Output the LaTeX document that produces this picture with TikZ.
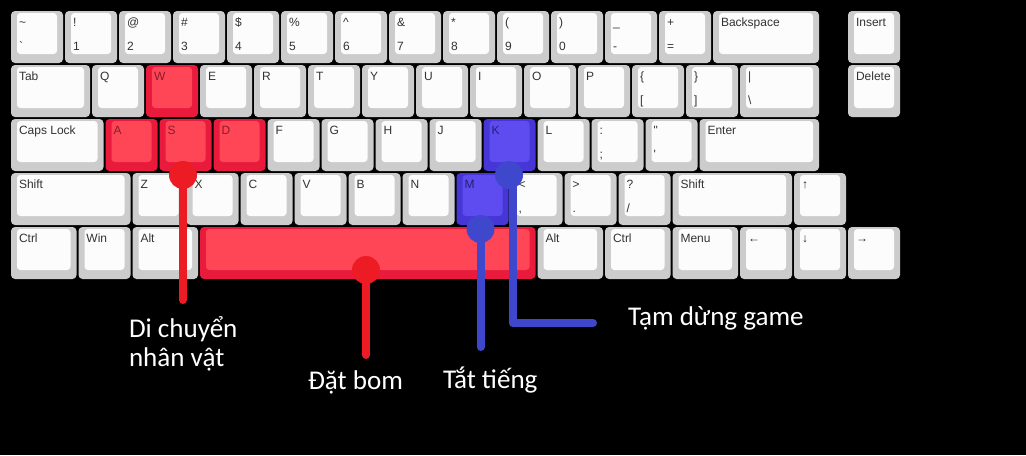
\documentclass[tikz,border=0pt]{standalone}
\usepackage{fontspec}
\newfontfamily\keyfont{Liberation Sans}
\newfontfamily\labfont{Carlito}
\definecolor{outW}{HTML}{CCCCCC}
\definecolor{inW}{HTML}{FCFCFC}
\definecolor{txtW}{HTML}{333333}
\definecolor{outR}{HTML}{E91A3C}
\definecolor{inR}{HTML}{FF4656}
\definecolor{txtR}{HTML}{8A1C2A}
\definecolor{outB}{HTML}{4636D6}
\definecolor{inB}{HTML}{5F4CF0}
\definecolor{txtB}{HTML}{26206A}
\definecolor{lineR}{HTML}{ED1C24}
\definecolor{lineB}{HTML}{3F48CC}
\pgfdeclarelayer{front}
\pgfsetlayers{main,front}
\tikzset{
  keyouter/.style={rectangle, rounded corners=3pt, inner sep=0pt, outer sep=0pt, minimum height=52*0.75pt, anchor=north west},
  legend/.style={inner sep=0pt, outer sep=0pt, anchor=base west, font=\keyfont\fontsize{9pt}{10pt}\selectfont},
  dotR/.style={circle, fill=lineR, minimum size=28*0.75pt, inner sep=0pt},
  dotB/.style={circle, fill=lineB, minimum size=28*0.75pt, inner sep=0pt},
  connR/.style={draw=lineR, line width=6pt, line cap=round},
  connB/.style={draw=lineB, line width=6pt, line cap=round, line join=round},
  label/.style={text=white, inner sep=0pt, outer sep=0pt, anchor=base west, align=left, font=\labfont\fontsize{20.3pt}{21.75pt}\selectfont}
}
% #1 col, #2 row, #3 width (u), #4 name, #5 top, #6 bottom, #7 scheme
\newcommand{\kbkey}[7]{%
  \pgfmathsetmacro{\kx}{11+#1*54}%
  \pgfmathsetmacro{\ky}{11+#2*54}%
  \pgfmathsetmacro{\kw}{#3*54-2}%
  \node[keyouter, fill=out#7, minimum width=\kw*0.75pt] (#4) at (\kx,\ky) {};
  \fill[in#7, rounded corners=2.5pt] (\kx+6,\ky+2) rectangle (\kx+\kw-6,\ky+43);
  \node[legend, text=txt#7] (#4-t) at (\kx+8,\ky+15) {#5};
  \node[legend, text=txt#7] (#4-b) at (\kx+8,\ky+39) {#6};
}
\begin{document}
\begin{tikzpicture}[x=0.75pt,y=-0.75pt]
\fill[black] (0,0) rectangle (1026,455);
\useasboundingbox (0,0) rectangle (1026,455);
% Row 0
\kbkey{0}{0}{1}{k00}{\textasciitilde}{\textasciigrave}{W}
\kbkey{1}{0}{1}{k01}{!}{1}{W}
\kbkey{2}{0}{1}{k02}{@}{2}{W}
\kbkey{3}{0}{1}{k03}{\#}{3}{W}
\kbkey{4}{0}{1}{k04}{\$}{4}{W}
\kbkey{5}{0}{1}{k05}{\%}{5}{W}
\kbkey{6}{0}{1}{k06}{\textasciicircum}{6}{W}
\kbkey{7}{0}{1}{k07}{\&}{7}{W}
\kbkey{8}{0}{1}{k08}{*}{8}{W}
\kbkey{9}{0}{1}{k09}{(}{9}{W}
\kbkey{10}{0}{1}{k010}{)}{0}{W}
\kbkey{11}{0}{1}{k011}{\_}{-}{W}
\kbkey{12}{0}{1}{k012}{+}{=}{W}
\kbkey{13}{0}{2}{kbksp}{Backspace}{}{W}
\kbkey{15.5}{0}{1}{kins}{Insert}{}{W}
% Row 1
\kbkey{0}{1}{1.5}{ktab}{Tab}{}{W}
\kbkey{1.5}{1}{1}{kq}{Q}{}{W}
\kbkey{2.5}{1}{1}{kw}{W}{}{R}
\kbkey{3.5}{1}{1}{ke}{E}{}{W}
\kbkey{4.5}{1}{1}{kr}{R}{}{W}
\kbkey{5.5}{1}{1}{kt}{T}{}{W}
\kbkey{6.5}{1}{1}{ky}{Y}{}{W}
\kbkey{7.5}{1}{1}{ku}{U}{}{W}
\kbkey{8.5}{1}{1}{ki}{I}{}{W}
\kbkey{9.5}{1}{1}{ko}{O}{}{W}
\kbkey{10.5}{1}{1}{kp}{P}{}{W}
\kbkey{11.5}{1}{1}{klb}{\{}{[}{W}
\kbkey{12.5}{1}{1}{krb}{\}}{]}{W}
\kbkey{13.5}{1}{1.5}{kbs}{|}{\textbackslash}{W}
\kbkey{15.5}{1}{1}{kdel}{Delete}{}{W}
% Row 2
\kbkey{0}{2}{1.75}{kcaps}{Caps Lock}{}{W}
\kbkey{1.75}{2}{1}{ka}{A}{}{R}
\kbkey{2.75}{2}{1}{ks}{S}{}{R}
\kbkey{3.75}{2}{1}{kd}{D}{}{R}
\kbkey{4.75}{2}{1}{kf}{F}{}{W}
\kbkey{5.75}{2}{1}{kg}{G}{}{W}
\kbkey{6.75}{2}{1}{kh}{H}{}{W}
\kbkey{7.75}{2}{1}{kj}{J}{}{W}
\kbkey{8.75}{2}{1}{kk}{K}{}{B}
\kbkey{9.75}{2}{1}{kl}{L}{}{W}
\kbkey{10.75}{2}{1}{ksc}{:}{;}{W}
\kbkey{11.75}{2}{1}{kqt}{"}{'}{W}
\kbkey{12.75}{2}{2.25}{kent}{Enter}{}{W}
% Row 3
\kbkey{0}{3}{2.25}{klsh}{Shift}{}{W}
\kbkey{2.25}{3}{1}{kz}{Z}{}{W}
\kbkey{3.25}{3}{1}{kx}{X}{}{W}
\kbkey{4.25}{3}{1}{kc}{C}{}{W}
\kbkey{5.25}{3}{1}{kv}{V}{}{W}
\kbkey{6.25}{3}{1}{kb}{B}{}{W}
\kbkey{7.25}{3}{1}{kn}{N}{}{W}
\kbkey{8.25}{3}{1}{km}{M}{}{B}
\kbkey{9.25}{3}{1}{kcom}{<}{,}{W}
\kbkey{10.25}{3}{1}{kdot}{>}{.}{W}
\kbkey{11.25}{3}{1}{ksl}{?}{/}{W}
\kbkey{12.25}{3}{2.25}{krsh}{Shift}{}{W}
\kbkey{14.5}{3}{1}{kup}{↑}{}{W}
% Row 4
\kbkey{0}{4}{1.25}{klctl}{Ctrl}{}{W}
\kbkey{1.25}{4}{1}{kwin}{Win}{}{W}
\kbkey{2.25}{4}{1.25}{klalt}{Alt}{}{W}
\kbkey{3.5}{4}{6.25}{kspc}{}{}{R}
\kbkey{9.75}{4}{1.25}{kralt}{Alt}{}{W}
\kbkey{11}{4}{1.25}{krctl}{Ctrl}{}{W}
\kbkey{12.25}{4}{1.25}{kmenu}{Menu}{}{W}
\kbkey{13.5}{4}{1}{kleft}{←}{}{W}
\kbkey{14.5}{4}{1}{kdown}{↓}{}{W}
\kbkey{15.5}{4}{1}{kright}{→}{}{W}
% dots (front layer)
\begin{pgfonlayer}{front}
\node[dotR] (dotS) at (183,175) {};
\node[dotR] (dotSp) at (366,270) {};
\node[dotB] (dotM) at (480.5,229) {};
\node[dotB] (dotK) at (509,175) {};
\end{pgfonlayer}
% connectors
\coordinate (endS) at (183,300);
\coordinate (endSp) at (366,355);
\coordinate (endM) at (480.5,347);
\coordinate (topK) at (512.5,175);
\coordinate (cornK) at (512.5,323);
\coordinate (endK) at (593,323);
\draw[connR] (dotS.center) -- (endS);
\draw[connR] (dotSp.center) -- (endSp);
\draw[connB] (dotM.center) -- (endM);
\draw[connB] (dotK.center) -- (topK) -- (cornK) -- (endK);
% labels
\node[label] (lmove) at (129,366) {Di chuyển\\nhân vật};
\node[label] (lbomb) at (308,389) {Đặt bom};
\node[label] (lmute) at (443,388) {Tắt tiếng};
\node[label] (lpause) at (628,325) {Tạm dừng game};
\end{tikzpicture}
\end{document}
